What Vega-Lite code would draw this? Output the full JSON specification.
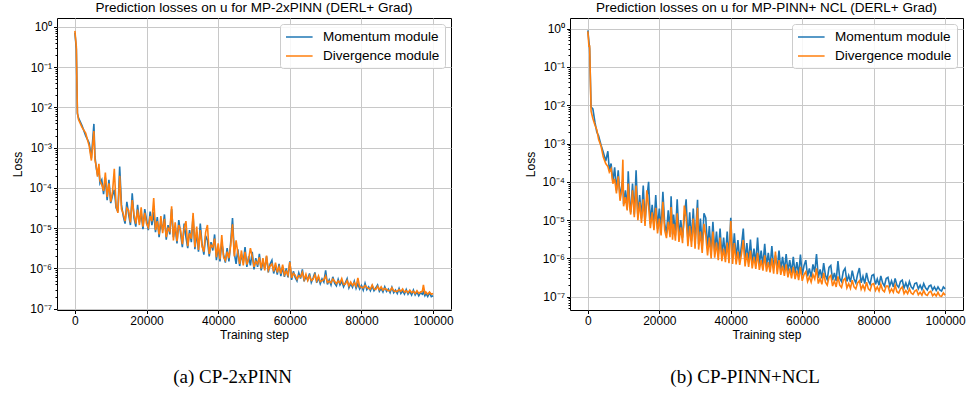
{
  "$schema": "https://vega.github.io/schema/vega-lite/v6.json",
  "padding": {"left": 11, "top": 0, "right": 0, "bottom": 0},
  "config": {
    "font": "Liberation Sans",
    "view": {"stroke": "black", "strokeWidth": 1},
    "axis": {"gridColor": "#c8c8c8", "gridWidth": 1, "labelFont": "Liberation Sans", "titleFont": "Liberation Sans", "labelFontSize": 12, "titleFontSize": 12, "titleFontWeight": "normal", "labelColor": "black", "titleColor": "black", "tickColor": "black", "domain": false}
  },
  "datasets": {
    "a": [
      {"x": 0, "M": 0.72, "D": 0.8}, {"x": 200, "M": 0.45, "D": 0.5}, {"x": 400, "M": 0.28, "D": 0.32}, {"x": 700, "M": 7e-3, "D": 7.5e-3},
      {"x": 1000, "M": 5.5e-3, "D": 5.0e-3}, {"x": 2000, "M": 3.5e-3, "D": 3.2e-3}, {"x": 3000, "M": 2.0e-3, "D": 2.3e-3}, {"x": 4000, "M": 1.3e-3, "D": 1.1e-3},
      {"x": 4600, "M": 5.5e-4, "D": 4.8e-4}, {"x": 5300, "M": 3.9e-3, "D": 2.6e-3}, {"x": 5600, "M": 6e-4, "D": 5e-4}, {"x": 6000, "M": 3.0e-4, "D": 3.3e-4},
      {"x": 6300, "M": 2.2e-4, "D": 1.9e-4}, {"x": 6700, "M": 2.6e-4, "D": 4.0e-4}, {"x": 7000, "M": 1.3e-4, "D": 1.5e-4}, {"x": 7500, "M": 1.6e-4, "D": 1.2e-4},
      {"x": 8000, "M": 7e-5, "D": 8.5e-5}, {"x": 8500, "M": 1.8e-4, "D": 2.4e-4}, {"x": 9000, "M": 5e-5, "D": 6e-5}, {"x": 9500, "M": 1.6e-4, "D": 1.3e-4},
      {"x": 10000, "M": 4.2e-5, "D": 4.6e-5}, {"x": 10500, "M": 6.5e-5, "D": 8e-5}, {"x": 11000, "M": 9e-5, "D": 3.0e-4}, {"x": 11500, "M": 3.2e-5, "D": 3.6e-5},
      {"x": 12000, "M": 2.6e-5, "D": 2.4e-5}, {"x": 12500, "M": 3.4e-4, "D": 2.0e-4}, {"x": 13000, "M": 3.8e-5, "D": 3.0e-5}, {"x": 13500, "M": 2.0e-5, "D": 2.3e-5},
      {"x": 14000, "M": 1.3e-5, "D": 1.5e-5}, {"x": 14500, "M": 4.5e-5, "D": 3.2e-5}, {"x": 15000, "M": 2.2e-5, "D": 2.8e-5}, {"x": 15500, "M": 1.2e-5, "D": 1.4e-5},
      {"x": 16000, "M": 7.4e-5, "D": 5e-5}, {"x": 16500, "M": 1.8e-5, "D": 2.2e-5}, {"x": 17000, "M": 1.1e-5, "D": 1.3e-5}, {"x": 17500, "M": 3.8e-5, "D": 2.9e-5},
      {"x": 18000, "M": 1.4e-5, "D": 1.2e-5}, {"x": 18500, "M": 2.4e-5, "D": 3.3e-5}, {"x": 19000, "M": 9.5e-6, "D": 1.1e-5}, {"x": 19500, "M": 3.0e-5, "D": 2.4e-5},
      {"x": 20000, "M": 1.6e-5, "D": 1.3e-5}, {"x": 20500, "M": 9e-6, "D": 1.05e-5}, {"x": 21000, "M": 2.6e-5, "D": 2.0e-5}, {"x": 21500, "M": 1.2e-5, "D": 1.5e-5},
      {"x": 22000, "M": 2.5e-5, "D": 5.6e-5}, {"x": 22500, "M": 8e-6, "D": 9e-6}, {"x": 23000, "M": 1.9e-5, "D": 1.5e-5}, {"x": 23500, "M": 6e-6, "D": 7e-6},
      {"x": 24000, "M": 1.4e-5, "D": 2.0e-5}, {"x": 24500, "M": 9e-6, "D": 7.5e-6}, {"x": 25000, "M": 2.2e-5, "D": 1.7e-5}, {"x": 25500, "M": 5.2e-6, "D": 6e-6},
      {"x": 26000, "M": 1.2e-5, "D": 1.0e-5}, {"x": 26500, "M": 7e-6, "D": 8.5e-6}, {"x": 27000, "M": 3.0e-5, "D": 3.5e-5}, {"x": 27500, "M": 6e-6, "D": 5e-6},
      {"x": 28000, "M": 1.1e-5, "D": 1.4e-5}, {"x": 28500, "M": 4.2e-6, "D": 4.8e-6}, {"x": 29000, "M": 1.6e-5, "D": 1.2e-5}, {"x": 29500, "M": 7.5e-6, "D": 9e-6},
      {"x": 30000, "M": 3.4e-6, "D": 4e-6}, {"x": 30500, "M": 1.3e-5, "D": 1.0e-5}, {"x": 31000, "M": 6e-6, "D": 1.5e-5}, {"x": 31500, "M": 3.2e-6, "D": 3.6e-6},
      {"x": 32000, "M": 9e-6, "D": 7.5e-6}, {"x": 32500, "M": 4.5e-6, "D": 5.5e-6}, {"x": 33000, "M": 2.0e-5, "D": 2.4e-5}, {"x": 33500, "M": 3.0e-6, "D": 3.4e-6},
      {"x": 34000, "M": 8e-6, "D": 1.1e-5}, {"x": 34500, "M": 2.6e-6, "D": 2.9e-6}, {"x": 35000, "M": 1.3e-5, "D": 9e-6}, {"x": 35500, "M": 4e-6, "D": 3.5e-6},
      {"x": 36000, "M": 2.2e-6, "D": 2.6e-6}, {"x": 36500, "M": 6.5e-6, "D": 8e-6}, {"x": 37000, "M": 5e-6, "D": 1.2e-5}, {"x": 37500, "M": 2.0e-6, "D": 2.3e-6},
      {"x": 38000, "M": 4.5e-6, "D": 3.8e-6}, {"x": 38500, "M": 2.8e-6, "D": 3.4e-6}, {"x": 39000, "M": 7e-6, "D": 5.5e-6}, {"x": 39500, "M": 1.6e-6, "D": 1.9e-6},
      {"x": 40000, "M": 3.5e-6, "D": 4.2e-6}, {"x": 40500, "M": 1.5e-6, "D": 1.7e-6}, {"x": 41000, "M": 4.5e-6, "D": 6.8e-6}, {"x": 41500, "M": 2.2e-6, "D": 1.9e-6},
      {"x": 42000, "M": 1.4e-6, "D": 1.6e-6}, {"x": 42500, "M": 3.2e-6, "D": 2.6e-6}, {"x": 43000, "M": 1.5e-6, "D": 1.8e-6}, {"x": 43500, "M": 4.5e-6, "D": 3.8e-6},
      {"x": 44000, "M": 1.8e-5, "D": 1.25e-5}, {"x": 44500, "M": 2.4e-6, "D": 2.0e-6}, {"x": 45000, "M": 1.3e-6, "D": 5.0e-6}, {"x": 45500, "M": 3.0e-6, "D": 2.4e-6},
      {"x": 46000, "M": 1.15e-6, "D": 1.3e-6}, {"x": 46500, "M": 2.2e-6, "D": 2.8e-6}, {"x": 47000, "M": 1.4e-6, "D": 1.2e-6}, {"x": 47500, "M": 3.4e-6, "D": 2.6e-6},
      {"x": 48000, "M": 1.1e-6, "D": 1.25e-6}, {"x": 48500, "M": 2.0e-6, "D": 1.7e-6}, {"x": 49000, "M": 1.2e-6, "D": 3.2e-6}, {"x": 49500, "M": 2.6e-6, "D": 2.0e-6},
      {"x": 50000, "M": 9.5e-7, "D": 1.1e-6}, {"x": 50500, "M": 1.8e-6, "D": 1.5e-6}, {"x": 51000, "M": 1.1e-6, "D": 1.3e-6}, {"x": 51500, "M": 2.3e-6, "D": 1.9e-6},
      {"x": 52000, "M": 9e-7, "D": 1.0e-6}, {"x": 52500, "M": 1.5e-6, "D": 1.8e-6}, {"x": 53000, "M": 1.0e-6, "D": 9e-7}, {"x": 53500, "M": 2.0e-6, "D": 2.1e-6},
      {"x": 54000, "M": 8e-7, "D": 9e-7}, {"x": 54500, "M": 1.3e-6, "D": 1.15e-6}, {"x": 55000, "M": 1.6e-6, "D": 1.3e-6}, {"x": 55500, "M": 7.5e-7, "D": 8.5e-7},
      {"x": 56000, "M": 1.2e-6, "D": 1.4e-6}, {"x": 56500, "M": 7e-7, "D": 8e-7}, {"x": 57000, "M": 1.3e-6, "D": 1.1e-6}, {"x": 57500, "M": 6.5e-7, "D": 7.5e-7},
      {"x": 58000, "M": 1.1e-6, "D": 1.25e-6}, {"x": 58500, "M": 6.2e-7, "D": 7e-7}, {"x": 59000, "M": 1.0e-6, "D": 8.5e-7}, {"x": 59500, "M": 6e-7, "D": 6.8e-7},
      {"x": 60000, "M": 1.5e-6, "D": 1.45e-6}, {"x": 60500, "M": 5.2e-7, "D": 5.8e-7}, {"x": 61000, "M": 8.5e-7, "D": 7.5e-7}, {"x": 61500, "M": 6.0e-7, "D": 6.8e-7},
      {"x": 62000, "M": 4.9e-7, "D": 5.4e-7}, {"x": 62500, "M": 7.8e-7, "D": 6.6e-7}, {"x": 63000, "M": 5.6e-7, "D": 6.2e-7}, {"x": 63500, "M": 9.5e-7, "D": 8e-7},
      {"x": 64000, "M": 4.8e-7, "D": 5.3e-7}, {"x": 64500, "M": 6.4e-7, "D": 7.2e-7}, {"x": 65000, "M": 5.2e-7, "D": 5.0e-7}, {"x": 65500, "M": 7.5e-7, "D": 6.5e-7},
      {"x": 66000, "M": 4.5e-7, "D": 5.0e-7}, {"x": 66500, "M": 5.8e-7, "D": 5.4e-7}, {"x": 67000, "M": 8e-7, "D": 7e-7}, {"x": 67500, "M": 4.4e-7, "D": 4.9e-7},
      {"x": 68000, "M": 6.0e-7, "D": 6.5e-7}, {"x": 68500, "M": 4.2e-7, "D": 4.7e-7}, {"x": 69000, "M": 5.5e-7, "D": 5.0e-7}, {"x": 69500, "M": 4.6e-7, "D": 5.3e-7},
      {"x": 70000, "M": 9e-7, "D": 6.5e-7}, {"x": 70500, "M": 4.0e-7, "D": 4.5e-7}, {"x": 71000, "M": 5.2e-7, "D": 4.8e-7}, {"x": 71500, "M": 3.9e-7, "D": 4.4e-7},
      {"x": 72000, "M": 6.2e-7, "D": 5.5e-7}, {"x": 72500, "M": 4.3e-7, "D": 4.8e-7}, {"x": 73000, "M": 3.7e-7, "D": 4.2e-7}, {"x": 73500, "M": 5.4e-7, "D": 4.9e-7},
      {"x": 74000, "M": 3.9e-7, "D": 4.4e-7}, {"x": 74500, "M": 4.8e-7, "D": 5.6e-7}, {"x": 75000, "M": 3.5e-7, "D": 4.0e-7}, {"x": 75500, "M": 4.4e-7, "D": 4.1e-7},
      {"x": 76000, "M": 5.6e-7, "D": 5.0e-7}, {"x": 76500, "M": 3.3e-7, "D": 3.7e-7}, {"x": 77000, "M": 4.2e-7, "D": 4.6e-7}, {"x": 77500, "M": 3.4e-7, "D": 3.8e-7},
      {"x": 78000, "M": 4.8e-7, "D": 4.4e-7}, {"x": 78500, "M": 3.2e-7, "D": 3.6e-7}, {"x": 79000, "M": 4.2e-7, "D": 5.8e-7}, {"x": 79500, "M": 3.1e-7, "D": 3.5e-7},
      {"x": 80000, "M": 3.8e-7, "D": 3.4e-7}, {"x": 80500, "M": 2.9e-7, "D": 3.3e-7}, {"x": 81000, "M": 4.3e-7, "D": 3.8e-7}, {"x": 81500, "M": 3.0e-7, "D": 3.4e-7},
      {"x": 82000, "M": 3.5e-7, "D": 3.2e-7}, {"x": 82500, "M": 2.8e-7, "D": 3.1e-7}, {"x": 83000, "M": 3.7e-7, "D": 3.9e-7}, {"x": 83500, "M": 2.8e-7, "D": 3.1e-7},
      {"x": 84000, "M": 3.3e-7, "D": 3.0e-7}, {"x": 84500, "M": 3.9e-7, "D": 3.6e-7}, {"x": 85000, "M": 2.7e-7, "D": 3.0e-7}, {"x": 85500, "M": 3.2e-7, "D": 3.5e-7},
      {"x": 86000, "M": 2.6e-7, "D": 2.9e-7}, {"x": 86500, "M": 3.5e-7, "D": 3.2e-7}, {"x": 87000, "M": 2.7e-7, "D": 3.0e-7}, {"x": 87500, "M": 3.1e-7, "D": 2.8e-7},
      {"x": 88000, "M": 2.5e-7, "D": 2.8e-7}, {"x": 88500, "M": 3.4e-7, "D": 3.3e-7}, {"x": 89000, "M": 2.5e-7, "D": 2.8e-7}, {"x": 89500, "M": 2.9e-7, "D": 2.7e-7},
      {"x": 90000, "M": 2.4e-7, "D": 2.7e-7}, {"x": 90500, "M": 3.2e-7, "D": 3.0e-7}, {"x": 91000, "M": 2.4e-7, "D": 2.7e-7}, {"x": 91500, "M": 2.8e-7, "D": 3.1e-7},
      {"x": 92000, "M": 2.3e-7, "D": 2.6e-7}, {"x": 92500, "M": 3.0e-7, "D": 2.8e-7}, {"x": 93000, "M": 2.3e-7, "D": 2.5e-7}, {"x": 93500, "M": 2.7e-7, "D": 2.9e-7},
      {"x": 94000, "M": 2.2e-7, "D": 2.5e-7}, {"x": 94500, "M": 2.9e-7, "D": 2.7e-7}, {"x": 95000, "M": 2.2e-7, "D": 2.4e-7}, {"x": 95500, "M": 2.6e-7, "D": 2.8e-7},
      {"x": 96000, "M": 2.1e-7, "D": 2.4e-7}, {"x": 96500, "M": 2.5e-7, "D": 2.6e-7}, {"x": 97000, "M": 2.3e-7, "D": 2.7e-7}, {"x": 97300, "M": 2.6e-7, "D": 3.9e-7},
      {"x": 97700, "M": 2.1e-7, "D": 2.4e-7}, {"x": 98000, "M": 2.4e-7, "D": 2.6e-7}, {"x": 98500, "M": 2.0e-7, "D": 2.3e-7}, {"x": 99000, "M": 2.5e-7, "D": 2.6e-7},
      {"x": 99500, "M": 2.0e-7, "D": 2.3e-7}, {"x": 100000, "M": 2.1e-7, "D": 2.4e-7}
    ],
    "b": [
      {"x": 0, "M": 0.9, "D": 0.85}, {"x": 300, "M": 0.45, "D": 0.35}, {"x": 500, "M": 0.3, "D": 0.35}, {"x": 900, "M": 9e-3, "D": 7e-3},
      {"x": 1400, "M": 8e-3, "D": 4.5e-3}, {"x": 2000, "M": 3.5e-3, "D": 3.0e-3}, {"x": 2500, "M": 2.0e-3, "D": 2.3e-3}, {"x": 3000, "M": 1.6e-3, "D": 1.3e-3},
      {"x": 3700, "M": 9e-4, "D": 8.5e-4}, {"x": 4300, "M": 6e-4, "D": 4.5e-4}, {"x": 5000, "M": 3.5e-4, "D": 3.0e-4}, {"x": 5600, "M": 6.3e-4, "D": 2.5e-4},
      {"x": 6000, "M": 2.0e-4, "D": 1.8e-4}, {"x": 6500, "M": 3.0e-4, "D": 2.2e-4}, {"x": 7000, "M": 1.0e-4, "D": 9e-5}, {"x": 7500, "M": 2.4e-4, "D": 1.2e-4},
      {"x": 8000, "M": 6e-5, "D": 5e-5}, {"x": 8500, "M": 2.0e-4, "D": 1.4e-4}, {"x": 9000, "M": 4e-5, "D": 3.2e-5}, {"x": 9500, "M": 8e-5, "D": 6e-5},
      {"x": 9800, "M": 1.2e-4, "D": 3.8e-4}, {"x": 10000, "M": 2.6e-5, "D": 2.3e-5}, {"x": 10500, "M": 6e-5, "D": 4e-5}, {"x": 11000, "M": 2.0e-5, "D": 1.8e-5},
      {"x": 11300, "M": 1.9e-4, "D": 9e-5}, {"x": 11700, "M": 2.8e-5, "D": 2.2e-5}, {"x": 12000, "M": 1.6e-5, "D": 1.4e-5}, {"x": 12500, "M": 9e-5, "D": 6e-5},
      {"x": 13000, "M": 1.4e-5, "D": 1.2e-5}, {"x": 13500, "M": 2.0e-4, "D": 8e-5}, {"x": 14000, "M": 1.2e-5, "D": 1.0e-5}, {"x": 14500, "M": 4.5e-5, "D": 3e-5},
      {"x": 15000, "M": 1.1e-5, "D": 8.5e-6}, {"x": 15500, "M": 8e-5, "D": 3.5e-5}, {"x": 16000, "M": 9e-6, "D": 7e-6}, {"x": 16500, "M": 3.5e-5, "D": 6e-5},
      {"x": 17000, "M": 1.0e-4, "D": 2.2e-5}, {"x": 17500, "M": 8e-6, "D": 6.2e-6}, {"x": 18000, "M": 2.5e-5, "D": 1.6e-5}, {"x": 18500, "M": 7e-6, "D": 5.5e-6},
      {"x": 19000, "M": 4.5e-5, "D": 2.1e-5}, {"x": 19500, "M": 6e-6, "D": 4.5e-6}, {"x": 20000, "M": 2.0e-5, "D": 1.1e-5}, {"x": 20500, "M": 5.5e-6, "D": 4.0e-6},
      {"x": 21000, "M": 5.5e-5, "D": 3.0e-5}, {"x": 21500, "M": 8e-6, "D": 5.5e-6}, {"x": 22000, "M": 4.5e-6, "D": 3.4e-6}, {"x": 22500, "M": 1.8e-5, "D": 9e-6},
      {"x": 23000, "M": 5e-6, "D": 3.6e-6}, {"x": 23300, "M": 4.2e-5, "D": 2.2e-5}, {"x": 23700, "M": 4.2e-6, "D": 3.1e-6}, {"x": 24000, "M": 1.4e-5, "D": 8e-6},
      {"x": 24500, "M": 4.0e-6, "D": 2.9e-6}, {"x": 25000, "M": 3.5e-5, "D": 1.5e-5}, {"x": 25500, "M": 3.8e-6, "D": 2.7e-6}, {"x": 26000, "M": 1.0e-5, "D": 6.5e-6},
      {"x": 26500, "M": 3.5e-6, "D": 2.5e-6}, {"x": 27000, "M": 1.2e-5, "D": 2.4e-5}, {"x": 27500, "M": 3.5e-5, "D": 1.2e-5}, {"x": 28000, "M": 3.0e-6, "D": 2.1e-6},
      {"x": 28500, "M": 1.6e-5, "D": 7e-6}, {"x": 29000, "M": 2.8e-6, "D": 2.0e-6}, {"x": 29500, "M": 2.0e-5, "D": 1.1e-5}, {"x": 30000, "M": 2.6e-6, "D": 1.8e-6},
      {"x": 30700, "M": 3.4e-5, "D": 2.1e-5}, {"x": 31000, "M": 2.4e-6, "D": 1.7e-6}, {"x": 31500, "M": 1.1e-5, "D": 5e-6}, {"x": 32000, "M": 2.0e-6, "D": 1.4e-6},
      {"x": 32500, "M": 1.5e-5, "D": 8e-6}, {"x": 33000, "M": 1.15e-5, "D": 4e-6}, {"x": 33500, "M": 1.8e-6, "D": 1.2e-6}, {"x": 34000, "M": 7e-6, "D": 3.5e-6},
      {"x": 34500, "M": 1.4e-6, "D": 1.0e-6}, {"x": 35000, "M": 9e-6, "D": 5e-6}, {"x": 35500, "M": 1.5e-6, "D": 1.05e-6}, {"x": 36000, "M": 5e-6, "D": 2.6e-6},
      {"x": 36500, "M": 1.3e-6, "D": 9e-7}, {"x": 37000, "M": 6e-6, "D": 3.5e-6}, {"x": 37500, "M": 1.2e-6, "D": 8.5e-7}, {"x": 38000, "M": 3.5e-6, "D": 1.8e-6},
      {"x": 38500, "M": 1.1e-6, "D": 8e-7}, {"x": 39000, "M": 5e-6, "D": 2.6e-6}, {"x": 39500, "M": 1.0e-6, "D": 7.5e-7}, {"x": 40000, "M": 1.15e-5, "D": 9.5e-6},
      {"x": 40500, "M": 1.0e-6, "D": 7.2e-7}, {"x": 41000, "M": 4.5e-6, "D": 2.5e-6}, {"x": 41500, "M": 9.5e-7, "D": 7e-7}, {"x": 42000, "M": 3.0e-6, "D": 1.5e-6},
      {"x": 42500, "M": 9e-7, "D": 6.8e-7}, {"x": 43000, "M": 2.2e-6, "D": 1.3e-6}, {"x": 43500, "M": 6e-6, "D": 3.0e-6}, {"x": 44000, "M": 8.5e-7, "D": 6.2e-7},
      {"x": 44500, "M": 2.5e-6, "D": 1.4e-6}, {"x": 45000, "M": 8e-7, "D": 6e-7}, {"x": 45500, "M": 3.1e-6, "D": 1.6e-6}, {"x": 46000, "M": 7.5e-7, "D": 5.5e-7},
      {"x": 46500, "M": 1.8e-6, "D": 1.1e-6}, {"x": 47000, "M": 7.2e-7, "D": 5.3e-7}, {"x": 47500, "M": 3.5e-6, "D": 1.4e-6}, {"x": 48000, "M": 7e-7, "D": 5e-7},
      {"x": 48500, "M": 1.6e-6, "D": 9e-7}, {"x": 49000, "M": 6.5e-7, "D": 4.8e-7}, {"x": 49500, "M": 2.4e-6, "D": 1.2e-6}, {"x": 50000, "M": 6.2e-7, "D": 4.5e-7},
      {"x": 50500, "M": 1.4e-6, "D": 8e-7}, {"x": 51000, "M": 6e-7, "D": 4.3e-7}, {"x": 51500, "M": 2.1e-6, "D": 1.0e-6}, {"x": 52000, "M": 5.6e-7, "D": 4.0e-7},
      {"x": 52500, "M": 1.2e-6, "D": 1.5e-6}, {"x": 53000, "M": 5.3e-7, "D": 3.9e-7}, {"x": 53500, "M": 1.6e-6, "D": 9e-7}, {"x": 54000, "M": 5e-7, "D": 3.7e-7},
      {"x": 54500, "M": 1.1e-6, "D": 6.5e-7}, {"x": 55000, "M": 4.8e-7, "D": 3.5e-7}, {"x": 55500, "M": 1.3e-6, "D": 7e-7}, {"x": 56000, "M": 4.5e-7, "D": 3.2e-7},
      {"x": 56500, "M": 9e-7, "D": 5.5e-7}, {"x": 57000, "M": 4.2e-7, "D": 3.0e-7}, {"x": 57500, "M": 1.1e-6, "D": 6e-7}, {"x": 58000, "M": 4.0e-7, "D": 2.9e-7},
      {"x": 58500, "M": 8e-7, "D": 4.8e-7}, {"x": 59000, "M": 3.8e-7, "D": 2.7e-7}, {"x": 59500, "M": 1.26e-6, "D": 6e-7}, {"x": 60000, "M": 3.6e-7, "D": 2.6e-7},
      {"x": 60500, "M": 6.5e-7, "D": 3.8e-7}, {"x": 61000, "M": 9e-7, "D": 4.5e-7}, {"x": 61500, "M": 3.4e-7, "D": 2.5e-7}, {"x": 62000, "M": 5.5e-7, "D": 3.3e-7},
      {"x": 62500, "M": 3.2e-7, "D": 2.4e-7}, {"x": 63000, "M": 7e-7, "D": 3.8e-7}, {"x": 63500, "M": 4.4e-7, "D": 2.9e-7}, {"x": 64000, "M": 1.3e-6, "D": 5.5e-7},
      {"x": 64500, "M": 3.1e-7, "D": 2.2e-7}, {"x": 65000, "M": 5.2e-7, "D": 3.0e-7}, {"x": 65500, "M": 3.0e-7, "D": 2.1e-7}, {"x": 66000, "M": 7.5e-7, "D": 4.2e-7},
      {"x": 66500, "M": 3.6e-7, "D": 2.4e-7}, {"x": 67000, "M": 2.8e-7, "D": 2.0e-7}, {"x": 67500, "M": 5.8e-7, "D": 3.2e-7}, {"x": 68000, "M": 6.5e-7, "D": 3.6e-7},
      {"x": 68500, "M": 2.7e-7, "D": 1.9e-7}, {"x": 69000, "M": 4.2e-7, "D": 2.6e-7}, {"x": 69500, "M": 2.6e-7, "D": 1.8e-7}, {"x": 70000, "M": 8.5e-7, "D": 3.4e-7},
      {"x": 70500, "M": 3.0e-7, "D": 2.0e-7}, {"x": 71000, "M": 2.5e-7, "D": 1.75e-7}, {"x": 71500, "M": 4.6e-7, "D": 2.7e-7}, {"x": 72000, "M": 5.5e-7, "D": 3.0e-7},
      {"x": 72500, "M": 2.5e-7, "D": 1.7e-7}, {"x": 73000, "M": 3.6e-7, "D": 2.2e-7}, {"x": 73500, "M": 2.4e-7, "D": 1.65e-7}, {"x": 74000, "M": 4.8e-7, "D": 2.7e-7},
      {"x": 74500, "M": 2.9e-7, "D": 1.8e-7}, {"x": 75000, "M": 2.3e-7, "D": 1.6e-7}, {"x": 75500, "M": 3.9e-7, "D": 2.3e-7}, {"x": 76000, "M": 5.6e-7, "D": 2.6e-7},
      {"x": 76500, "M": 2.3e-7, "D": 1.55e-7}, {"x": 77000, "M": 3.4e-7, "D": 2.0e-7}, {"x": 77500, "M": 2.2e-7, "D": 1.5e-7}, {"x": 78000, "M": 4.2e-7, "D": 2.4e-7},
      {"x": 78500, "M": 2.6e-7, "D": 1.6e-7}, {"x": 79000, "M": 2.1e-7, "D": 1.45e-7}, {"x": 79500, "M": 3.6e-7, "D": 2.1e-7}, {"x": 80000, "M": 3.8e-7, "D": 2.2e-7},
      {"x": 80500, "M": 2.1e-7, "D": 1.45e-7}, {"x": 81000, "M": 2.9e-7, "D": 1.8e-7}, {"x": 81500, "M": 2.0e-7, "D": 1.4e-7}, {"x": 82000, "M": 3.5e-7, "D": 2.1e-7},
      {"x": 82500, "M": 2.3e-7, "D": 1.5e-7}, {"x": 83000, "M": 1.9e-7, "D": 1.35e-7}, {"x": 83500, "M": 3.0e-7, "D": 1.9e-7}, {"x": 84000, "M": 3.2e-7, "D": 1.9e-7},
      {"x": 84500, "M": 1.9e-7, "D": 1.3e-7}, {"x": 85000, "M": 2.6e-7, "D": 1.6e-7}, {"x": 85500, "M": 1.8e-7, "D": 1.3e-7}, {"x": 86000, "M": 3.0e-7, "D": 2.0e-7},
      {"x": 86500, "M": 2.0e-7, "D": 1.35e-7}, {"x": 87000, "M": 1.75e-7, "D": 1.25e-7}, {"x": 87500, "M": 2.5e-7, "D": 1.6e-7}, {"x": 88000, "M": 2.7e-7, "D": 1.8e-7},
      {"x": 88500, "M": 1.7e-7, "D": 1.2e-7}, {"x": 89000, "M": 2.3e-7, "D": 1.45e-7}, {"x": 89500, "M": 1.7e-7, "D": 1.2e-7}, {"x": 90000, "M": 2.5e-7, "D": 1.6e-7},
      {"x": 90500, "M": 1.8e-7, "D": 1.25e-7}, {"x": 91000, "M": 1.6e-7, "D": 1.15e-7}, {"x": 91500, "M": 2.2e-7, "D": 1.4e-7}, {"x": 92000, "M": 2.3e-7, "D": 1.5e-7},
      {"x": 92500, "M": 1.6e-7, "D": 1.12e-7}, {"x": 93000, "M": 2.0e-7, "D": 1.3e-7}, {"x": 93500, "M": 1.55e-7, "D": 1.1e-7}, {"x": 94000, "M": 2.2e-7, "D": 1.45e-7},
      {"x": 94500, "M": 1.7e-7, "D": 1.15e-7}, {"x": 95000, "M": 1.5e-7, "D": 1.08e-7}, {"x": 95500, "M": 1.9e-7, "D": 1.3e-7}, {"x": 96000, "M": 2.0e-7, "D": 1.4e-7},
      {"x": 96500, "M": 1.5e-7, "D": 1.06e-7}, {"x": 97000, "M": 1.8e-7, "D": 1.2e-7}, {"x": 97500, "M": 1.45e-7, "D": 1.04e-7}, {"x": 98000, "M": 1.8e-7, "D": 1.3e-7},
      {"x": 98500, "M": 1.5e-7, "D": 1.05e-7}, {"x": 99000, "M": 1.4e-7, "D": 1.02e-7}, {"x": 99500, "M": 1.8e-7, "D": 1.25e-7}, {"x": 100000, "M": 1.6e-7, "D": 1.1e-7}
    ]
  },
  "spacing": 70,
  "resolve": {"scale": {"color": "independent", "x": "independent", "y": "independent"}, "legend": {"color": "independent"}},
  "hconcat": [
    {
      "title": {"text": "(a) CP-2xPINN", "orient": "bottom", "anchor": "middle", "frame": "bounds", "font": "Liberation Serif", "fontSize": 19, "fontWeight": "normal", "color": "black", "offset": 27},
      "resolve": {"scale": {"color": "independent"}, "legend": {"color": "independent"}},
      "vconcat": [
        {
          "width": 394, "height": 292,
          "title": {"text": "Prediction losses on u for MP-2xPINN (DERL+ Grad)", "font": "Liberation Sans", "fontSize": 13.5, "fontWeight": "normal", "color": "black", "anchor": "middle", "frame": "group", "offset": 4},
          "data": {"name": "a"},
          "transform": [{"fold": ["M", "D"], "as": ["series", "loss"]}],
          "mark": {"type": "line", "strokeWidth": 1.6, "clip": true},
          "encoding": {
            "x": {"field": "x", "type": "quantitative", "scale": {"domain": [-5000, 105000], "nice": false, "zero": false},
                  "axis": {"title": "Training step", "values": [0, 20000, 40000, 60000, 80000, 100000], "format": "d", "tickSize": 3.5, "labelPadding": 2, "titlePadding": 3, "labelFlush": false}},
            "y": {"field": "loss", "type": "quantitative", "scale": {"type": "log", "domain": [9.3e-8, 1.67], "nice": false},
                  "axis": {"title": "Loss", "labelPadding": 2, "titlePadding": 4, "labelOverlap": false, "labelFlush": false, "labelBound": false,
                           "values": [1e-7, 2e-7, 3e-7, 4e-7, 5e-7, 6e-7, 7e-7, 8e-7, 9e-7, 1e-6, 2e-6, 3e-6, 4e-6, 5e-6, 6e-6, 7e-6, 8e-6, 9e-6, 1e-5, 2e-5, 3e-5, 4e-5, 5e-5, 6e-5, 7e-5, 8e-5, 9e-5, 1e-4, 2e-4, 3e-4, 4e-4, 5e-4, 6e-4, 7e-4, 8e-4, 9e-4, 1e-3, 2e-3, 3e-3, 4e-3, 5e-3, 6e-3, 7e-3, 8e-3, 9e-3, 0.01, 0.02, 0.03, 0.04, 0.05, 0.06, 0.07, 0.08, 0.09, 0.1, 0.2, 0.3, 0.4, 0.5, 0.6, 0.7, 0.8, 0.9, 1],
                           "labelExpr": "abs(log(datum.value)/LN10 - round(log(datum.value)/LN10)) < 0.001 ? ['10⁰','10⁻¹','10⁻²','10⁻³','10⁻⁴','10⁻⁵','10⁻⁶','10⁻⁷','10⁻⁸'][abs(round(log(datum.value)/LN10))] : ''",
                           "tickSize": {"condition": {"test": "abs(log(datum.value)/LN10 - round(log(datum.value)/LN10)) < 0.001", "value": 3.5}, "value": 2},
                           "gridOpacity": {"condition": {"test": "abs(log(datum.value)/LN10 - round(log(datum.value)/LN10)) < 0.001", "value": 1}, "value": 0}}},
            "color": {"field": "series", "type": "nominal", "scale": {"domain": ["M", "D"], "range": ["#1f77b4", "#ff7f0e"]},
                      "legend": {"orient": "top-right", "offset": 6, "title": null, "symbolType": "M-1,0H2.8", "symbolSize": 196, "symbolStrokeWidth": 1.5, "labelFontSize": 13.5, "labelColor": "black", "labelOffset": 22, "rowPadding": 4, "padding": 5, "fillColor": "rgba(255,255,255,0.85)", "strokeColor": "#cccccc", "cornerRadius": 3,
                                 "labelExpr": "datum.label == 'M' ? 'Momentum module' : 'Divergence module'"}}
          }
        }
      ]
    },
    {
      "title": {"text": "(b) CP-PINN+NCL", "orient": "bottom", "anchor": "middle", "frame": "bounds", "font": "Liberation Serif", "fontSize": 19, "fontWeight": "normal", "color": "black", "offset": 27},
      "resolve": {"scale": {"color": "independent"}, "legend": {"color": "independent"}},
      "vconcat": [
        {
          "width": 393, "height": 292,
          "title": {"text": "Prediction losses on u for MP-PINN+ NCL (DERL+ Grad)", "font": "Liberation Sans", "fontSize": 13.5, "fontWeight": "normal", "color": "black", "anchor": "middle", "frame": "group", "offset": 4},
          "data": {"name": "b"},
          "transform": [{"fold": ["M", "D"], "as": ["series", "loss"]}],
          "mark": {"type": "line", "strokeWidth": 1.6, "clip": true},
          "encoding": {
            "x": {"field": "x", "type": "quantitative", "scale": {"domain": [-5000, 105000], "nice": false, "zero": false},
                  "axis": {"title": "Training step", "values": [0, 20000, 40000, 60000, 80000, 100000], "format": "d", "tickSize": 3.5, "labelPadding": 2, "titlePadding": 3, "labelFlush": false}},
            "y": {"field": "loss", "type": "quantitative", "scale": {"type": "log", "domain": [4.5e-8, 1.9], "nice": false},
                  "axis": {"title": "Loss", "labelPadding": 2, "titlePadding": 4, "labelOverlap": false, "labelFlush": false, "labelBound": false,
                           "values": [5e-8, 6e-8, 7e-8, 8e-8, 9e-8, 1e-7, 2e-7, 3e-7, 4e-7, 5e-7, 6e-7, 7e-7, 8e-7, 9e-7, 1e-6, 2e-6, 3e-6, 4e-6, 5e-6, 6e-6, 7e-6, 8e-6, 9e-6, 1e-5, 2e-5, 3e-5, 4e-5, 5e-5, 6e-5, 7e-5, 8e-5, 9e-5, 1e-4, 2e-4, 3e-4, 4e-4, 5e-4, 6e-4, 7e-4, 8e-4, 9e-4, 1e-3, 2e-3, 3e-3, 4e-3, 5e-3, 6e-3, 7e-3, 8e-3, 9e-3, 0.01, 0.02, 0.03, 0.04, 0.05, 0.06, 0.07, 0.08, 0.09, 0.1, 0.2, 0.3, 0.4, 0.5, 0.6, 0.7, 0.8, 0.9, 1],
                           "labelExpr": "abs(log(datum.value)/LN10 - round(log(datum.value)/LN10)) < 0.001 ? ['10⁰','10⁻¹','10⁻²','10⁻³','10⁻⁴','10⁻⁵','10⁻⁶','10⁻⁷','10⁻⁸'][abs(round(log(datum.value)/LN10))] : ''",
                           "tickSize": {"condition": {"test": "abs(log(datum.value)/LN10 - round(log(datum.value)/LN10)) < 0.001", "value": 3.5}, "value": 2},
                           "gridOpacity": {"condition": {"test": "abs(log(datum.value)/LN10 - round(log(datum.value)/LN10)) < 0.001", "value": 1}, "value": 0}}},
            "color": {"field": "series", "type": "nominal", "scale": {"domain": ["M", "D"], "range": ["#1f77b4", "#ff7f0e"]},
                      "legend": {"orient": "top-right", "offset": 6, "title": null, "symbolType": "M-1,0H2.8", "symbolSize": 196, "symbolStrokeWidth": 1.5, "labelFontSize": 13.5, "labelColor": "black", "labelOffset": 22, "rowPadding": 4, "padding": 5, "fillColor": "rgba(255,255,255,0.85)", "strokeColor": "#cccccc", "cornerRadius": 3,
                                 "labelExpr": "datum.label == 'M' ? 'Momentum module' : 'Divergence module'"}}
          }
        }
      ]
    }
  ]
}
